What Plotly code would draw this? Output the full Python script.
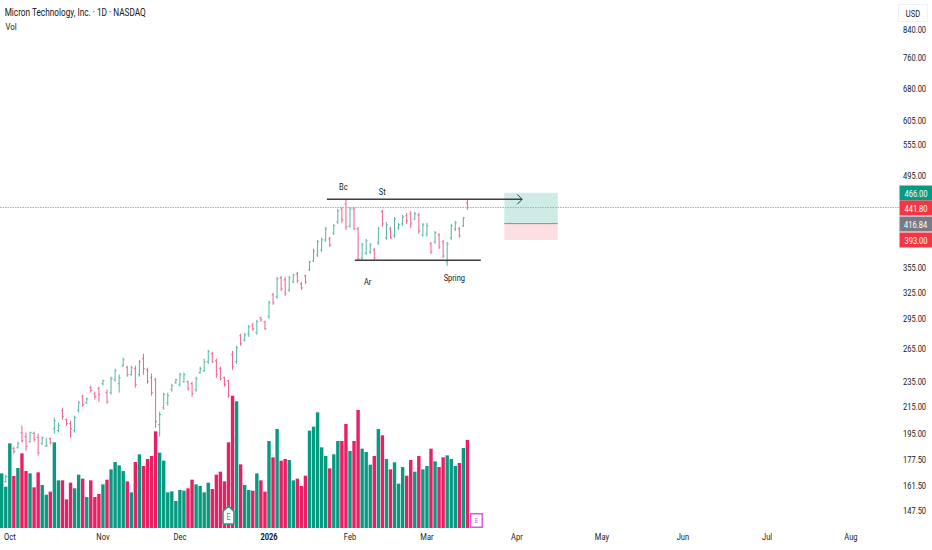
import math
import plotly.graph_objects as go

# Bar index 0 is the first visible session (late Sep 2025); the axis is a session-index axis.
opens = [161.6,163.9,172.4,184.7,185.4,195.7,192.9,189.4,195,192.2,188,186.3,191.5,198.5,197.1,211.9,205.1,202.2,197.1,211.9,222.8,218,230.3,225.3,229.4,233.6,226.1,226.1,237,233.6,249.3,247.5,241.4,246.6,241.4,255.7,245.7,238.7,237,201.5,214.1,218,228.6,234.4,232.8,235.3,235.3,233.6,228.6,243.1,244.8,252.8,260.3,253.8,246.6,238.7,236.2,259.4,252.8,277.8,273.8,279.8,288.9,280.9,296.5,292.2,297.6,322.2,319.9,342.5,340,328,337.6,347.6,335.2,345,352.6,364.2,372.2,379,393,394.5,402.9,419.4,439.6,447.6,413.4,439.6,408.9,368.2,375,376.3,379,388.8,434.9,396,408.9,399,410.4,416.4,428.6,431.8,424,430.2,400,401.5,387.4,390.2,400,390.2,362.9,396,408.9,408.9,413.4,449.2]
highs = [166.9,168.1,180.7,186,189.4,200.7,195.7,196.4,196.4,195,192.9,192.2,192.2,206.6,202.9,214.2,205.9,204.4,208.1,219.6,224.5,222,232,227,231.1,237,228.6,239.6,246.6,241.4,256.6,249.3,249.3,249.3,254.7,260.3,247.5,242.3,238.7,211.1,226.1,226.1,233.6,237.9,243.1,243.1,236.2,235.3,239.6,248.4,255.7,264.1,262.2,255.7,248.4,239.6,237,263.1,268,279.8,280.9,288.9,291.2,294.3,297.6,293.3,315.3,324.5,343.7,345,343.7,345,347.6,350.1,337.6,346.3,364.2,380.4,393,396,411.9,397.5,416.4,439.6,442.8,455.6,442.8,442.8,412,388.8,394.5,388.8,381.8,411.9,438,419.4,411.9,427,417.9,430.2,433.3,436.4,434.9,433.3,417.9,417.9,390.2,405.9,402.9,393,390.2,416.4,420.9,411.9,427,455.6]
lows = [159.9,163.3,171.2,181.4,184.7,188.7,183.3,188.7,189.4,180.1,187.4,186,187.4,195,195.7,205.1,200.7,192.2,195.7,210.4,214.9,217.3,226.1,220.4,218.8,232,217.3,224.5,235.3,226.1,248.4,239.6,240.5,230.3,239.6,241.4,233.6,223.7,199.2,192.9,212.6,215.7,227,233.6,231.1,234.4,227.8,222.8,227,242.3,244,251,251.9,238.7,236.2,231.1,222,245.7,251,268,271.9,276.8,282.9,278.8,292.2,283.9,295.4,310.8,317.6,326.8,321,325.7,336.4,336.4,328,335.2,351.3,362.9,369.5,376.2,390.2,383.2,400,416.4,417.9,407.4,410.4,407.4,364.2,365.5,372.2,373.5,365.5,386,411.9,393,394.5,396,407.4,413.4,416.4,410.4,422.4,401.5,397.5,397.5,373.5,387.4,380.4,368.2,357.8,393,405.9,396,411.9,438]
closes = [165.7,166.9,178.8,182.7,188,190.1,186,195.7,190.8,182,192.2,186.7,188.7,204.4,200.7,207.4,202.2,198.5,206.6,218,216.5,221.2,227.8,222.8,224.5,236.2,218.8,237.9,244.8,238.7,254.7,241.4,247.5,232.8,252.8,246.6,235.3,226.1,203.6,209,224.5,223.7,232,237,241.4,241.4,229.4,225.3,237.9,246.6,252.8,262.2,252.8,241.4,237.9,232.8,223.7,248.4,266,269.9,278.8,287,284.9,292.2,294.3,284.9,313,313,341.3,329.2,323.3,342.5,346.3,338.8,330.4,337.6,362.9,377.6,390.2,393,408.9,386,413.4,436.4,422.4,412,439.6,408.9,366.8,386,391.6,386,368.2,408.9,416.4,414.9,396,424,414.9,427,420.9,416.4,431.8,405.9,414.9,413.4,376.3,402.9,383.2,370.9,387.4,413.4,417.9,399,425.5,441.8]
# Relative volume (one unit = one third of a pixel of bar height in the reference)
volumes = [164,124,254,156,180,224,171,164,122,167,129,100,109,257,143,143,86,136,119,160,148,93,143,93,102,131,145,176,198,188,171,140,107,198,221,186,207,216,290,226,202,107,110,81,114,112,119,145,131,126,107,136,117,160,169,140,257,397,380,191,129,114,112,164,143,109,261,212,297,202,207,204,143,148,126,157,292,304,347,242,216,179,221,261,261,312,231,261,354,238,228,190,216,297,278,207,176,197,133,183,157,204,169,216,176,186,238,200,183,212,218,207,186,195,240,264]
volume_is_up = [1,1,1,0,1,0,0,1,0,0,1,1,0,1,1,0,0,0,1,1,0,1,0,0,0,1,0,1,1,1,1,0,1,0,1,0,0,0,0,1,1,1,1,1,1,1,0,0,1,1,1,1,0,0,0,0,0,0,1,0,1,1,0,1,0,0,1,0,1,0,0,1,1,0,0,0,1,1,1,1,1,0,1,1,0,0,1,0,0,1,1,1,0,1,0,1,0,1,1,1,0,0,1,0,1,1,0,1,0,0,1,1,1,0,1,0]

tick_prices = [840,760,680,605,555,495,355,325,295,265,235,215,195,177.5,161.5,147.5]
tick_price_labels = ["840.00","760.00","680.00","605.00","555.00","495.00","355.00","325.00","295.00","265.00","235.00","215.00","195.00","177.50","161.50","147.50"]
month_positions = [2,25,44,66,86,105,127.2,148.2,168.2,189,209.7]
month_labels = ["Oct","Nov","Dec","<b>2026</b>","Feb","Mar","Apr","May","Jun","Jul","Aug"]

last_price = 441.80
target_price = 466.00
entry_price = 416.84
stop_price = 393.00
resistance_price = 455.1
support_price = 365.1

GREEN = "#089981"
RED = "#E91E63"
TAG_RED = "#F23645"
FONT = "Roboto, sans-serif"
TEXT = "#131722"

def lg(p):
    return math.log10(p)

x = list(range(len(closes)))
fig = go.Figure()

fig.add_trace(go.Bar(
    x=x, y=volumes, yaxis="y", width=0.84,
    marker=dict(color=[GREEN if u else RED for u in volume_is_up], line=dict(width=0)),
    hoverinfo="skip", showlegend=False))

fig.add_trace(go.Ohlc(
    x=x, open=opens, high=highs, low=lows, close=closes, yaxis="y2", tickwidth=0.35,
    increasing=dict(line=dict(color=GREEN, width=1)),
    decreasing=dict(line=dict(color=RED, width=1)),
    opacity=0.7, showlegend=False))

# Last-price line
fig.add_trace(go.Scatter(x=[-0.42,221.56], y=[last_price]*2, yaxis="y2", mode="lines",
                         line=dict(color="#F78C98", width=1, dash="1.5px,1px"),
                         showlegend=False, hoverinfo="skip"))

# Drawn trend lines
fig.add_trace(go.Scatter(x=[80.3,128.5], y=[resistance_price]*2, yaxis="y2", mode="lines",
                         line=dict(color="#3b3d45", width=1.5), showlegend=False, hoverinfo="skip"))
fig.add_trace(go.Scatter(x=[127.3,128.5,127.3], y=[resistance_price*1.018,resistance_price,resistance_price/1.018],
                         yaxis="y2", mode="lines", line=dict(color="#3b3d45", width=1), showlegend=False, hoverinfo="skip"))
fig.add_trace(go.Scatter(x=[87.2,118.3], y=[support_price]*2, yaxis="y2", mode="lines",
                         line=dict(color="#3b3d45", width=1.5), showlegend=False, hoverinfo="skip"))

# Earnings flag
ex = 56.0
fig.add_trace(go.Scatter(x=[ex-1.35,ex-1.35,ex,ex+1.35,ex+1.35,ex-1.35],
                         y=[140.6,147.2,150.0,147.2,140.6,140.6], yaxis="y2", mode="lines",
                         fill="toself", fillcolor="white", line=dict(color="#1e9e86", width=1.5),
                         showlegend=False, hoverinfo="skip"))

shapes = [
    dict(type="rect", xref="x", yref="y2", x0=124.1, x1=137.3, y0=entry_price, y1=target_price,
         fillcolor="rgba(8,153,129,0.2)", line=dict(width=0), layer="below"),
    dict(type="rect", xref="x", yref="y2", x0=124.1, x1=137.3, y0=stop_price, y1=entry_price,
         fillcolor="rgba(242,54,69,0.16)", line=dict(width=0), layer="below"),
    dict(type="line", xref="x", yref="y2", x0=124.1, x1=137.3, y0=entry_price, y1=entry_price,
         line=dict(color="#8a8d96", width=1)),
]

annots = []
def txt(xv, price, s, size=9.4):
    annots.append(dict(x=xv, y=lg(price), xref="x", yref="y2", text=s, showarrow=False,
                       font=dict(family=FONT, size=size, color=TEXT)))
txt(84.5, 476.6, "Bc")
txt(94.1, 469, "St")
txt(90.4, 337.6, "Ar")
txt(111.9, 342.5, "Spring")
txt(56.0, 144.0, "E", 8.5)
annots[-1]["font"]["color"] = "#1e9e86"

def tag(price, s, color):
    annots.append(dict(x=1.0, y=lg(price), xref="paper", yref="y2", xanchor="left", yanchor="middle",
                       text=s, showarrow=False, bgcolor=color, width=30, height=12, align="center",
                       font=dict(family=FONT, size=9.4, color="white")))
tag(target_price, "466.00", GREEN)
tag(last_price, "441.80", TAG_RED)
tag(entry_price, "416.84", "#787B86")
tag(stop_price, "393.00", TAG_RED)

PH = 528.0
annots.append(dict(x=75/899, y=1-12.7/PH, xref="paper", yref="paper", xanchor="center", yanchor="middle",
                   text="Micron Technology, Inc. · 1D · NASDAQ", showarrow=False,
                   font=dict(family=FONT, size=10.3, color=TEXT)))
annots.append(dict(x=10.5/899, y=1-26.5/PH, xref="paper", yref="paper", xanchor="center", yanchor="middle",
                   text="Vol", showarrow=False, font=dict(family=FONT, size=9.8, color=TEXT)))
annots.append(dict(x=913/899, y=1-13.5/PH, xref="paper", yref="paper", xanchor="center", yanchor="middle",
                   text="USD", showarrow=False, font=dict(family=FONT, size=9.4, color=TEXT),
                   bordercolor="#eef0f5", borderwidth=1, width=26, height=14))
annots.append(dict(x=(476.5-1.7)/4.05, y=lg(142.6), xref="x", yref="y2", text="E", showarrow=False,
                   font=dict(family=FONT, size=7.5, color="#D05CE3"), bgcolor="white",
                   bordercolor="#D65CE8", borderwidth=1.5, width=8, height=10))

fig.update_layout(
    width=932, height=550, autosize=False,
    margin=dict(l=0, r=33, t=0, b=22),
    paper_bgcolor="white", plot_bgcolor="white",
    bargap=0.2,
    shapes=shapes, annotations=annots,
    showlegend=False,
    xaxis=dict(range=[-0.42,221.56], tickmode="array", tickvals=month_positions, ticktext=month_labels,
               showgrid=False, zeroline=False, showline=False, ticks="", rangeslider=dict(visible=False),
               tickfont=dict(family=FONT, size=9.4, color=TEXT), ticklabelstandoff=2, automargin=False),
    yaxis=dict(range=[0,PH*3], visible=False, fixedrange=True, automargin=False),
    yaxis2=dict(type="log", range=[lg(138.6), lg(936)], overlaying="y", side="right",
                tickmode="array", tickvals=tick_prices, ticktext=tick_price_labels, automargin=False,
                showgrid=False, zeroline=False, showline=False, ticks="", ticklabelstandoff=3,
                tickfont=dict(family=FONT, size=9.4, color=TEXT)),
)

# Full-bleed page, and horizontally condensed glyphs as in the reference's label face.
post = """
document.documentElement.style.margin='0';
document.body.style.margin='0';
document.querySelectorAll('svg text').forEach(function(t){
  var w=t.getComputedTextLength();
  if(w>0){t.setAttribute('textLength',(w*0.8).toFixed(1));t.setAttribute('lengthAdjust','spacingAndGlyphs');}
});
"""
fig.write_html("out.html", post_script=post, config=dict(displayModeBar=False))
